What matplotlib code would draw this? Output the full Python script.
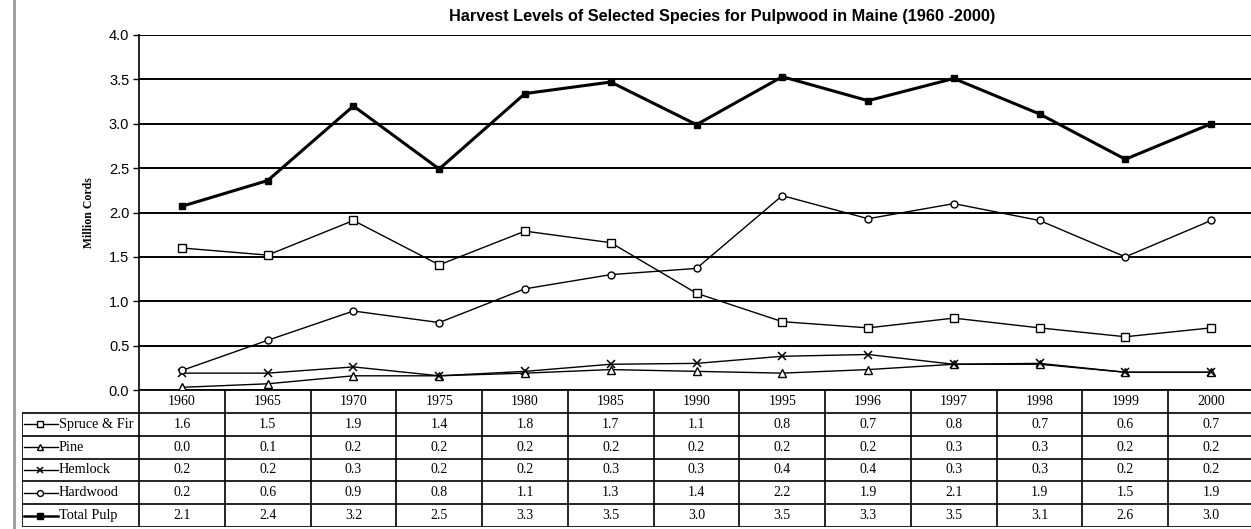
import matplotlib

matplotlib.use("Agg")
import matplotlib.pyplot as plt
from matplotlib.lines import Line2D

# data
years = ["1960", "1965", "1970", "1975", "1980", "1985", "1990",
         "1995", "1996", "1997", "1998", "1999", "2000"]
spruce_fir = [1.60, 1.52, 1.91, 1.41, 1.79, 1.66, 1.09, 0.77, 0.70, 0.81, 0.70, 0.60, 0.70]
pine = [0.03, 0.07, 0.16, 0.16, 0.19, 0.23, 0.21, 0.19, 0.23, 0.29, 0.29, 0.20, 0.20]
hemlock = [0.19, 0.19, 0.26, 0.16, 0.21, 0.29, 0.30, 0.38, 0.40, 0.29, 0.30, 0.20, 0.20]
hardwood = [0.22, 0.56, 0.89, 0.76, 1.14, 1.30, 1.37, 2.19, 1.93, 2.10, 1.91, 1.50, 1.91]
total_pulp = [2.07, 2.36, 3.20, 2.49, 3.34, 3.47, 2.99, 3.53, 3.26, 3.51, 3.11, 2.60, 3.00]

series = [
    ("Spruce & Fir", spruce_fir, dict(marker="s", ms=5.5, mfc="white", lw=1.0)),
    ("Pine", pine, dict(marker="^", ms=5.5, mfc="white", lw=1.0)),
    ("Hemlock", hemlock, dict(marker="x", ms=5.5, mew=1.1, lw=1.0)),
    ("Hardwood", hardwood, dict(marker="o", ms=5, mfc="white", lw=1.0)),
    ("Total Pulp", total_pulp, dict(marker="s", ms=4.5, lw=2.2)),
]

W, H = 1251, 529
fig = plt.figure(figsize=(W / 100, H / 100), dpi=100)

# pixel layout
x_left, x_right = 139, 1254
y_top, y_zero, y_tab_bot = 35, 390, 527
lab_left = 21.7
col_w = (x_right - x_left) / len(years)

ax = fig.add_axes([x_left / W, (H - y_zero) / H, (x_right - x_left) / W, (y_zero - y_top) / H])
xs = list(range(len(years)))
for name, vals, kw in series:
    ax.plot(xs, vals, color="black", mec="black", label=name, **kw)

ax.set_xlim(-0.5, len(years) - 0.5)
ax.set_ylim(0, 4)
ax.set_yticks([i * 0.5 for i in range(9)])
ax.set_yticklabels([f"{i * 0.5:.1f}" for i in range(9)], family="Liberation Sans", fontsize=10.5)
ax.set_xticks([])
ax.yaxis.grid(True, color="black", lw=1.4)
ax.set_axisbelow(True)
for s in ("top", "right", "bottom"):
    ax.spines[s].set_visible(False)
ax.spines["left"].set_linewidth(1.2)
ax.tick_params(axis="y", length=4, width=1.0, pad=3)
ax.set_ylabel("Million Cords", family="Liberation Serif", fontsize=8.5, fontweight="bold", labelpad=10)

fig.text(722 / W, 1 - 17 / H,
         "Harvest Levels of Selected Species for Pulpwood in Maine (1960 -2000)",
         ha="center", va="center", family="Liberation Sans", fontweight="bold", fontsize=11.7)

# data table under the plot
tab_x0 = -0.5 - (x_left - lab_left) / col_w
tb = fig.add_axes([lab_left / W, (H - y_tab_bot) / H, (x_right - lab_left) / W, (y_tab_bot - y_zero) / H])
nrows = len(series) + 1
tb.set_xlim(tab_x0, len(years) - 0.5)
tb.set_ylim(nrows, 0)
tb.axis("off")

tb.hlines(0, -0.5, len(years) - 0.5, color="black", lw=1.3)
tb.hlines(range(1, nrows + 1), tab_x0, len(years) - 0.5, color="black", lw=1.2)
tb.vlines([i - 0.5 for i in range(len(years) + 1)], 0, nrows, color="black", lw=1.2)
tb.vlines(tab_x0, 1, nrows, color="black", lw=1.2)

for i, y in enumerate(years):
    tb.text(i, 0.5, y, ha="center", va="center", family="Liberation Serif", fontsize=10)

def px_to_x(px):
    return (px - x_left) / col_w - 0.5

for r, (name, vals, kw) in enumerate(series, start=1):
    yc = r + 0.5
    tb.plot([px_to_x(24), px_to_x(58)], [yc, yc], color="black", lw=kw["lw"] if kw["lw"] < 2 else 1.8)
    mk = dict(kw)
    mk.pop("lw")
    mk["ms"] = mk["ms"] * 0.85
    tb.plot([px_to_x(40)], [yc], color="black", mec="black", ls="none", **mk)
    tb.text(px_to_x(59), yc, name, ha="left", va="center", family="Liberation Serif", fontsize=10.3)
    for i, v in enumerate(vals):
        tb.text(i, yc, f"{v:.1f}", ha="center", va="center", family="Liberation Serif", fontsize=10)

# scanned page edge at the left
fig.add_artist(Line2D([14 / W, 14 / W], [0, 1], color="#9a9a9a", lw=2, transform=fig.transFigure))

fig.savefig("out.png", dpi=100)
